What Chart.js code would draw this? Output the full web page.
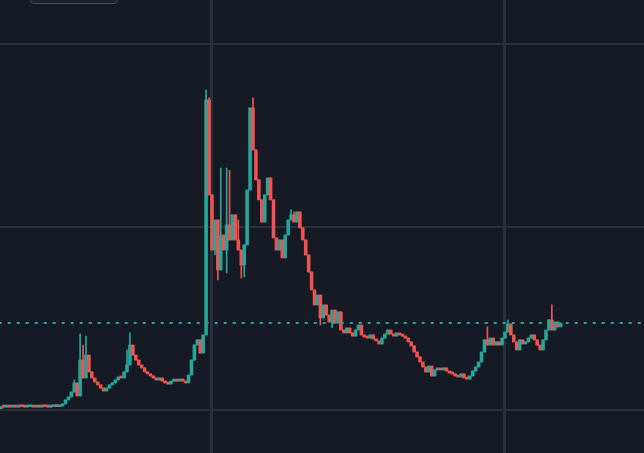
<!DOCTYPE html>
<html>
<head>
<meta charset="utf-8">
<script src="https://cdn.jsdelivr.net/npm/chart.js@4/dist/chart.umd.min.js"></script>
<style>
    html, body { margin: 0; padding: 0; background: #161a25; overflow: hidden; }
    #wrap { position: relative; width: 644px; height: 453px; }
    #legendEdge {
        position: absolute; left: 30px; top: -6px; width: 86px; height: 8px;
        background: #1e222d; border: 1px solid #434651; border-radius: 4px;
    }
</style>
</head>
<body>
<div id="wrap">
    <canvas id="chart"></canvas>
    <div id="legendEdge"></div>
</div>
<script>
// Price series (one candle per period), grid lines every 10 price units
const firstOpen = 0.18;
const closes = [
    0.18, 0.16, 0.20, 0.16, 0.18, 0.16, 0.20, 0.18, 0.16, 0.18,
    0.20, 0.16, 0.18, 0.16, 0.20, 0.18, 0.16, 0.18, 0.20, 0.18,
    0.22, 0.33, 0.55, 0.71, 0.98, 1.48, 0.77, 2.73, 1.75, 3.00,
    2.08, 1.75, 1.53, 1.37, 1.20, 1.04, 1.20, 1.37, 1.48, 1.64,
    1.80, 1.75, 2.08, 2.46, 3.55, 3.00, 2.73, 2.46, 2.30, 2.08,
    1.97, 1.86, 1.75, 1.64, 1.75, 1.58, 1.48, 1.42, 1.58, 1.64,
    1.58, 1.69, 1.58, 1.48, 1.91, 2.73, 3.55, 3.83, 3.11, 4.10,
    16.94, 11.75, 8.74, 10.38, 7.65, 9.56, 8.74, 10.11, 9.29, 10.66,
    9.29, 8.74, 7.92, 9.02, 12.02, 16.50, 14.21, 12.57, 11.48, 10.27,
    11.75, 12.68, 11.48, 9.40, 8.74, 9.29, 8.31, 9.56, 10.38, 10.66,
    10.27, 10.82, 9.95, 9.29, 8.47, 7.54, 6.56, 5.74, 6.28, 5.03,
    5.74, 5.19, 4.81, 5.46, 4.75, 5.36, 4.37, 4.21, 4.48, 4.21,
    4.04, 4.37, 4.64, 4.10, 3.99, 3.93, 4.10, 3.88, 3.77, 3.61,
    3.93, 4.15, 4.37, 4.15, 4.04, 4.21, 4.10, 4.04, 3.93, 3.72,
    3.50, 3.17, 2.90, 2.62, 2.35, 2.08, 2.40, 1.86, 2.19, 2.24,
    2.19, 2.30, 2.13, 2.02, 1.97, 1.86, 1.80, 1.97, 1.75, 1.69,
    1.86, 2.13, 2.35, 2.62, 3.17, 3.83, 3.55, 3.93, 3.55, 3.72,
    3.55, 3.93, 4.26, 4.70, 4.10, 3.72, 3.28, 3.83, 3.61, 3.72,
    3.93, 4.10, 3.83, 3.55, 3.28, 3.83, 4.37, 4.92, 4.37, 4.81,
    4.54, 4.75
];
// wick extremes where they reach past the candle body (index: price)
const wickHighs = {
    25: 1.64, 27: 4.15, 28: 3.55, 29: 4.04, 43: 3.28, 44: 4.21,
    70: 17.49, 71: 17.05, 72: 11.75, 75: 13.22, 77: 13.22, 78: 13.10, 81: 10.38,
    86: 17.05, 99: 10.93, 100: 10.82, 166: 4.54, 173: 4.91, 188: 5.74
};
const wickLows = {
    73: 8.47, 74: 7.10, 77: 7.49, 82: 7.21, 83: 7.27, 109: 4.64, 113: 4.50
};
const gridPrices = [0, 10, 20];
const gridPeriods = [72, 172];

const UP = '#26a69a';
const DOWN = '#ef5350';

const bodies = [];
const wicks = [];
const colors = [];
closes.forEach((c, i) => {
    const o = i === 0 ? firstOpen : closes[i - 1];
    const hi = Math.max(o, c, wickHighs[i] ?? -Infinity);
    const lo = Math.min(o, c, wickLows[i] ?? Infinity);
    bodies.push({ x: i, y: [o, c] });
    wicks.push({ x: i, y: [lo, hi] });
    colors.push(c >= o ? UP : DOWN);
});
const lastClose = closes[closes.length - 1];
const lastColor = colors[colors.length - 1];

const ctx = document.getElementById('chart').getContext('2d');
document.getElementById('chart').parentNode.style.height = '453px';

new Chart(ctx, {
    type: 'bar',
    data: {
        datasets: [
            {
                label: 'Wick',
                data: wicks,
                backgroundColor: colors,
                barThickness: 1,
                minBarLength: 1,
                grouped: false,
                order: 2
            },
            {
                label: 'Body',
                data: bodies,
                backgroundColor: colors,
                barPercentage: 1,
                categoryPercentage: 1,
                minBarLength: 2,
                grouped: false,
                order: 1
            },
            {
                type: 'line',
                label: 'Last price',
                data: [{ x: -10, y: lastClose }, { x: 300, y: lastClose }],
                borderColor: lastColor,
                borderWidth: 2,
                borderDash: [3, 6],
                pointRadius: 0,
                order: 0
            }
        ]
    },
    options: {
        responsive: true,
        maintainAspectRatio: false,
        animation: false,
        layout: { padding: 0 },
        plugins: {
            legend: { display: false },
            tooltip: { enabled: false }
        },
        scales: {
            x: {
                type: 'linear',
                min: -0.35,
                max: 219.45,
                offset: false,
                afterBuildTicks: s => { s.ticks = gridPeriods.map(v => ({ value: v })); },
                afterFit: s => { s.height = 0; },
                grid: { color: '#2a2e39', lineWidth: 3, drawTicks: false, offset: false },
                border: { display: false },
                ticks: { display: false }
            },
            y: {
                type: 'linear',
                min: -2.35,
                max: 22.4,
                afterBuildTicks: s => { s.ticks = gridPrices.map(v => ({ value: v })); },
                afterFit: s => { s.width = 0; },
                grid: { color: '#2a2e39', lineWidth: 2, drawTicks: false },
                border: { display: false },
                ticks: { display: false }
            }
        }
    }
});
</script>
</body>
</html>
